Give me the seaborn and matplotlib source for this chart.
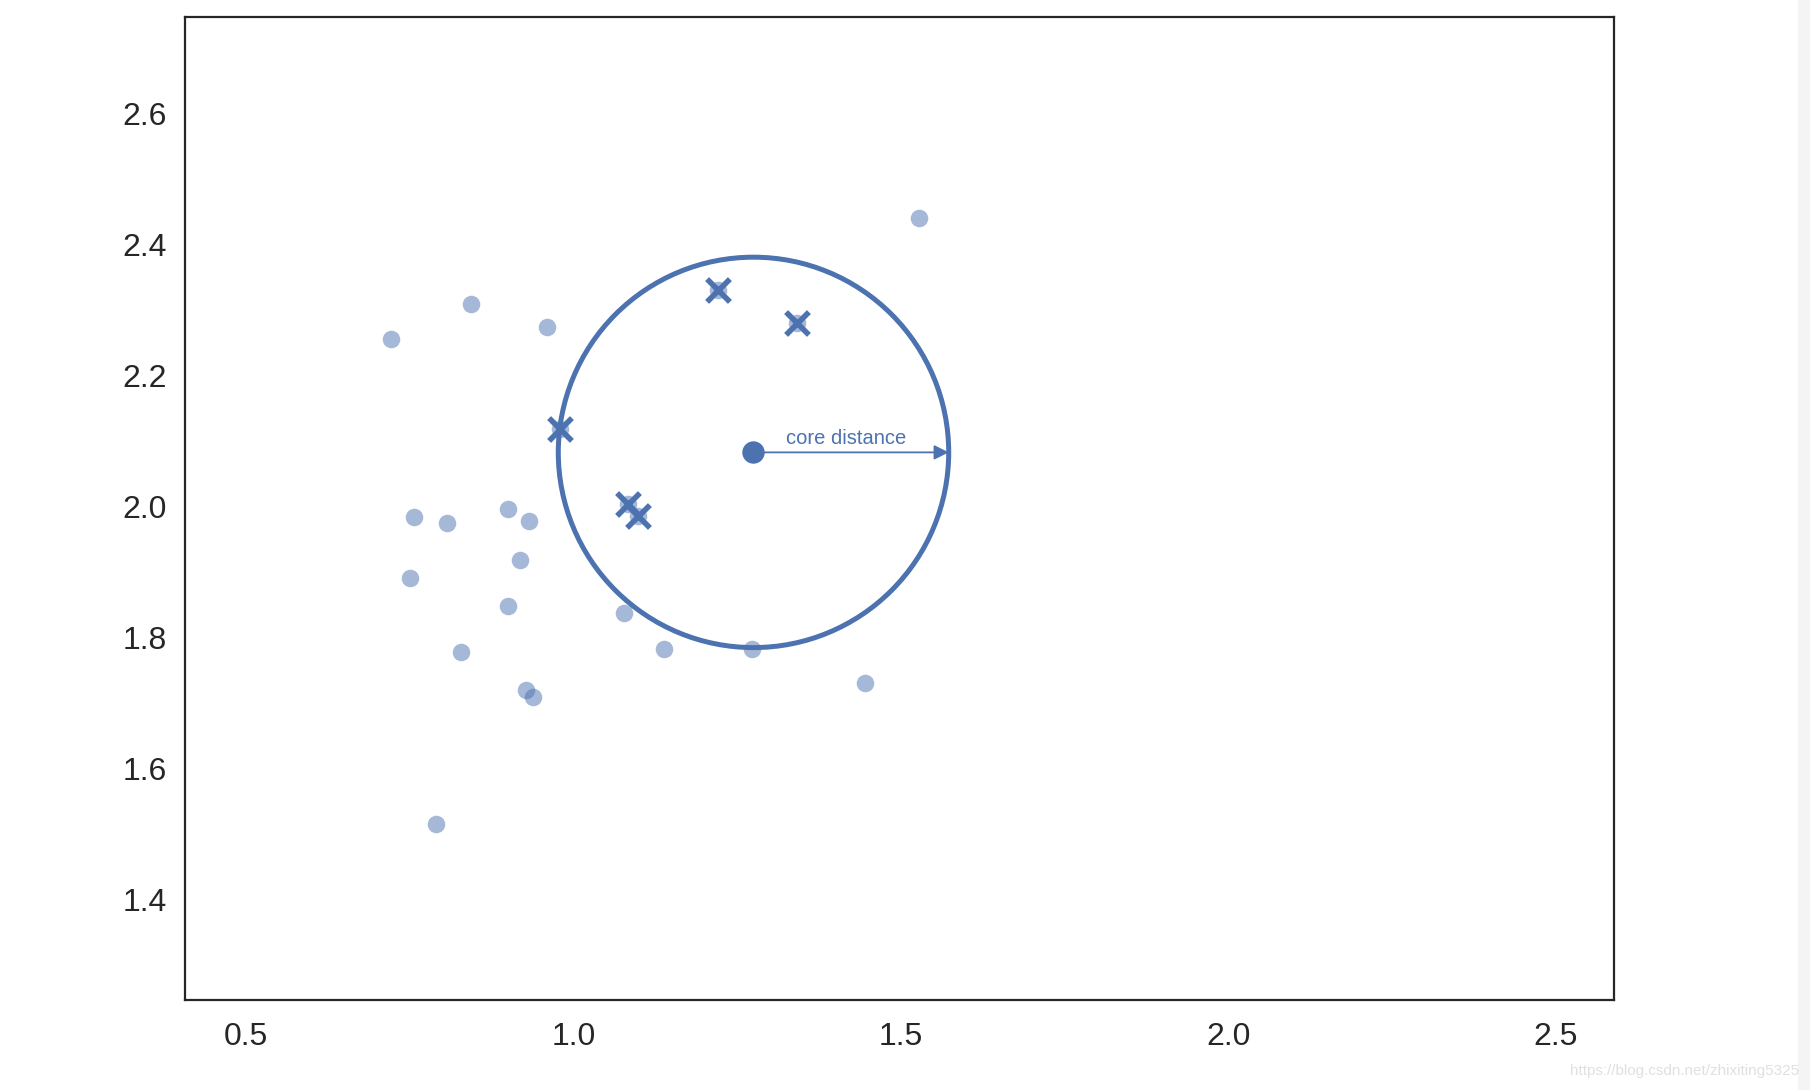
import numpy as np
import matplotlib
matplotlib.use("Agg")
import matplotlib.pyplot as plt
from matplotlib.patches import Circle, Rectangle
import seaborn as sns
import pandas as pd

# background points
x_pts = [1.527, 0.844, 0.722, 0.960, 0.757, 0.807, 0.900, 0.932, 0.919, 0.750,
         0.900, 1.078, 1.138, 1.272, 1.445, 0.828, 0.928, 0.939, 0.791]
y_pts = [2.440, 2.308, 2.255, 2.274, 1.983, 1.974, 1.996, 1.978, 1.918, 1.890,
         1.848, 1.837, 1.782, 1.782, 1.730, 1.777, 1.719, 1.708, 1.515]

# nearest neighbours of the core point (drawn as dot + cross)
x_nb = [1.221, 1.342, 0.979, 1.083, 1.099]
y_nb = [2.330, 2.279, 2.117, 2.003, 1.985]

# core point and its core distance
core_x = 1.275
core_y = 2.082
core_dist = 0.298

color = sns.color_palette("deep")[0]

sns.set_style("white")
plt.rcParams["font.family"] = ["Liberation Sans", "DejaVu Sans"]

fig = plt.figure(figsize=(18.1, 10.9), dpi=100)
ax = fig.add_axes([0.102, 0.083, 0.7895, 0.901])

pts = pd.DataFrame({"x": x_pts + x_nb, "y": y_pts + y_nb})
sns.scatterplot(data=pts, x="x", y="y", ax=ax, color=color, alpha=0.5,
                s=160, linewidth=0)

nb = pd.DataFrame({"x": x_nb, "y": y_nb})
sns.scatterplot(data=nb, x="x", y="y", ax=ax, color=color, marker="x",
                s=270, linewidth=4)

sns.scatterplot(x=[core_x], y=[core_y], ax=ax, color=color, s=260, linewidth=0)

ax.add_patch(Circle((core_x, core_y), core_dist, fill=False,
                    edgecolor=color, linewidth=3.6))

ax.annotate("", xy=(core_x + core_dist, core_y), xytext=(core_x, core_y),
            arrowprops=dict(arrowstyle="-|>", color=color, lw=1.3,
                            mutation_scale=22, shrinkA=0, shrinkB=0))
ax.text(core_x + core_dist / 2 - 0.008, core_y + 0.006, "core distance",
        color=color, fontsize=14.5, ha="center", va="bottom")

ax.set_xlim(0.4066, 2.588)
ax.set_ylim(1.2467, 2.746)
ax.set_xticks([0.5, 1.0, 1.5, 2.0, 2.5])
ax.set_yticks([1.4, 1.6, 1.8, 2.0, 2.2, 2.4, 2.6])
ax.tick_params(labelsize=23)
ax.tick_params(axis="x", pad=13)
ax.tick_params(axis="y", pad=9.5)
ax.set_xlabel("")
ax.set_ylabel("")
for sp in ax.spines.values():
    sp.set_color("#262626")
    sp.set_linewidth(1.6)

# faint strip on the right edge and watermark
fig.patches.append(Rectangle((0.9934, 0), 0.0066, 1, transform=fig.transFigure,
                             facecolor="#f4f4f4", edgecolor="none", zorder=0))
fig.text(0.994, 0.017, "https://blog.csdn.net/zhixiting5325", color="#e0e0e0",
         fontsize=11, ha="right", va="center")

plt.savefig("out.png", dpi=100)
plt.close()
